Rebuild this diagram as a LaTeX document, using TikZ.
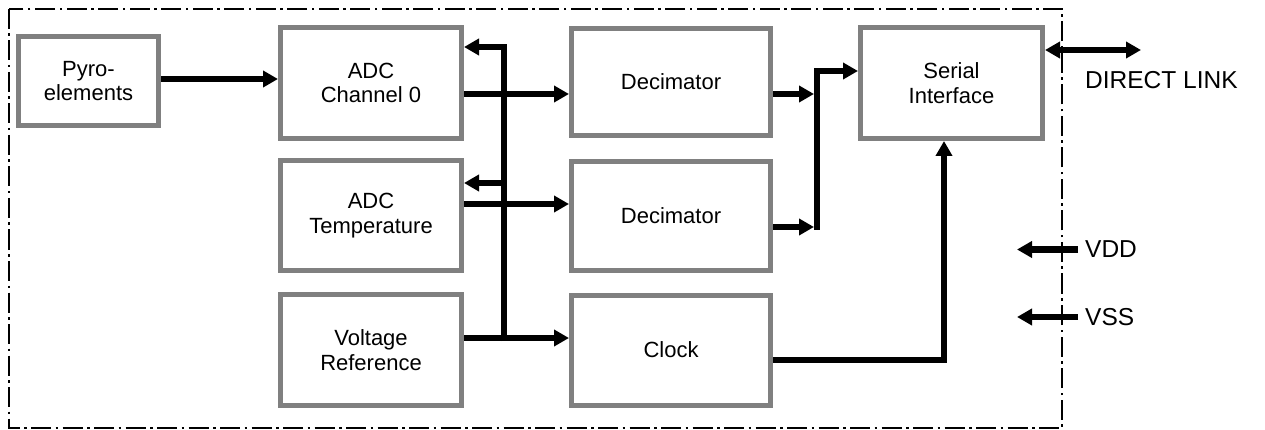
\documentclass[tikz,border=0pt]{standalone}
\usepackage{fontspec}
\setmainfont{Liberation Sans}
\usetikzlibrary{arrows.meta}
\definecolor{boxgray}{RGB}{128,128,128}

\begin{document}
\begin{tikzpicture}
[x=1pt,y=-1pt,
  lineDecorate/.style={line width=6pt,-{Triangle[length=15pt,width=16pt]}},%
  bothDecorate/.style={line width=6pt,{Triangle[length=15pt,width=16pt]}-{Triangle[length=15pt,width=16pt]}},%
  nodeDecorate/.style={shape=rectangle,draw=boxgray,line width=5pt,fill=white,align=center,inner sep=0pt,font=\fontsize{22}{24.5}\selectfont},%
  pinDecorate/.style={anchor=west,inner sep=0pt,font=\fontsize{24.5}{28}\selectfont},%
  frameDecorate/.style={line width=2.7pt,dash pattern=on 20pt off 4.5pt on 2.5pt off 4.5pt}]
\useasboundingbox (0,0) rectangle (1265,430);
%% outer frame
\draw[frameDecorate] (9,9) rectangle (1062,428);
%% nodes or blocks
\foreach \nodename/\x/\y/\w/\h/\txt in {
  pyro/88.5/81/140/89/{Pyro-\\elements},
  adc0/371/83/181/111/{ADC\\Channel 0},
  adcT/371/215.5/181/110/{ADC\\Temperature},
  vref/371/350/181/111/{Voltage\\Reference},
  dec1/671/82/199/107/{Decimator},
  dec2/671/216/199/109/{Decimator},
  clock/671/350/199/110/{Clock},
  serial/951.5/83/182/111/{Serial\\Interface}}
{
  \node (\nodename) at (\x,\y) [nodeDecorate,minimum width=\w,minimum height=\h] {\txt};
}
\node (dlink) at (1085,80.5) [pinDecorate] {DIRECT LINK};
\node (vdd) at (1085,249.5) [pinDecorate] {VDD};
\node (vss) at (1085,317) [pinDecorate] {VSS};
\coordinate (bus) at (504,341);
\coordinate (mrg) at (817,0);
\coordinate (dlEnd) at (1141,50);
\coordinate (vddEnd) at (1017,249.5);
\coordinate (vssEnd) at (1017,317);
%% edges or lines
\draw[lineDecorate] ([yshift=2]pyro.east) -- ([yshift=2]pyro.east -| adc0.west);
\draw[lineDecorate] ([yshift=-11]adc0.east) -- ([yshift=-11]adc0.east -| dec1.west);
\draw[lineDecorate] ([yshift=11.5]adcT.east) -- ([yshift=11.5]adcT.east -| dec2.west);
\draw[lineDecorate] ([yshift=12]vref.east) -- ([yshift=12]vref.east -| clock.west);
\draw[lineDecorate] (bus) |- ([yshift=36]adc0.east);
\draw[lineDecorate] ([yshift=32.5]adcT.east -| bus) -- ([yshift=32.5]adcT.east);
\draw[lineDecorate,shorten >=3pt] ([yshift=-12]dec1.east) -- ([yshift=-12]dec1.east -| mrg);
\draw[lineDecorate,shorten >=3pt] ([yshift=-11]dec2.east) -- ([yshift=-11]dec2.east -| mrg);
\draw[lineDecorate] ([yshift=-14]dec2.east -| mrg) |- ([yshift=12]serial.west);
\draw[lineDecorate] ([yshift=-10]clock.east) -| ([xshift=-7.5]serial.south);
\draw[bothDecorate] ([yshift=33]serial.east) -- (dlEnd);
\draw[lineDecorate] ([xshift=-7]vdd.west) -- (vddEnd);
\draw[lineDecorate] ([xshift=-7]vss.west) -- (vssEnd);
\end{tikzpicture}
\end{document}
